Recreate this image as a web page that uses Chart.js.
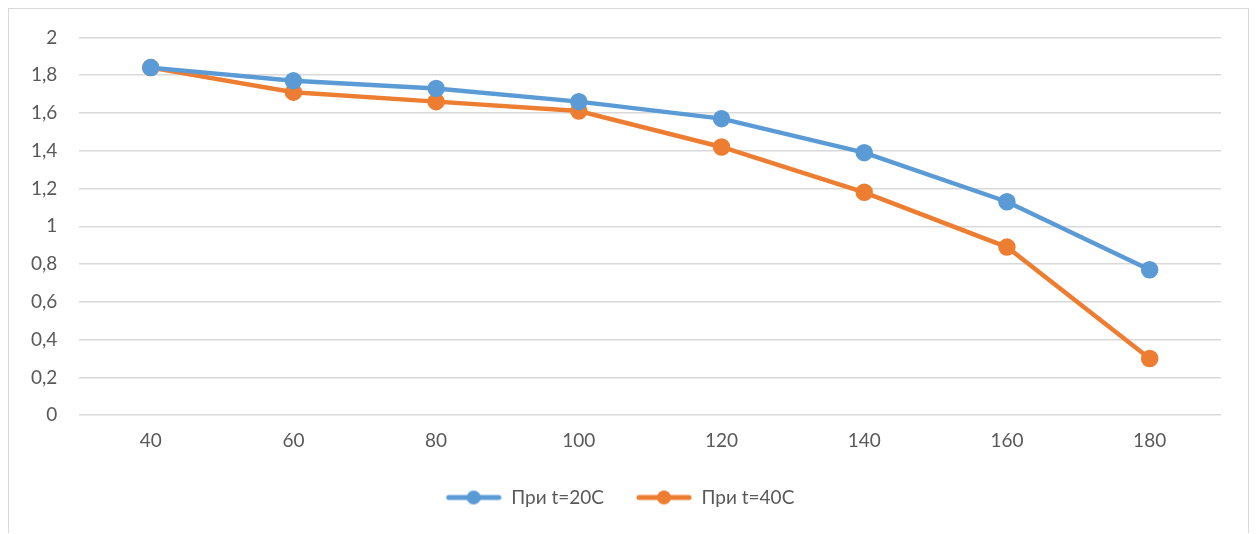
<!DOCTYPE html>
<html>
<head>
<meta charset="utf-8">
<script src="https://cdn.jsdelivr.net/npm/chart.js@4"></script>
<style>
    body { margin: 0; background: #fff; }
    #box {
        position: absolute;
        left: 8px;
        top: 8px;
        width: 1239px;
        height: 524px;
        border: 1px solid #d9d9d9;
        border-bottom: none;
    }
    #wrap {
        position: absolute;
        left: 0;
        top: -5px;
        width: 1239px;
        height: 529px;
    }
</style>
</head>
<body>
<div id="box"><div id="wrap"><canvas id="chart"></canvas></div></div>
<script>
const categories = ['40', '60', '80', '100', '120', '140', '160', '180'];
const series20 = [1.84, 1.77, 1.73, 1.66, 1.57, 1.39, 1.13, 0.77];
const series40 = [1.84, 1.71, 1.66, 1.61, 1.42, 1.18, 0.89, 0.30];
const seriesNames = ['При t=20С', 'При t=40С'];
const colors = ['#5b9bd5', '#ed7d31'];

// значок легенды: линия с кружком (слева пустой отступ)
function legendIcon(color) {
    const c = document.createElement('canvas');
    c.width = 66;
    c.height = 16;
    const ctx = c.getContext('2d');
    ctx.strokeStyle = color;
    ctx.lineWidth = 5;
    ctx.lineCap = 'round';
    ctx.beginPath();
    ctx.moveTo(13, 8);
    ctx.lineTo(63, 8);
    ctx.stroke();
    ctx.fillStyle = color;
    ctx.beginPath();
    ctx.arc(38, 8, 7, 0, Math.PI * 2);
    ctx.fill();
    return c;
}

const font = { family: 'Lato, "Open Sans", sans-serif', size: 19 };

new Chart(document.getElementById('chart'), {
    type: 'line',
    data: {
        labels: categories,
        datasets: [series20, series40].map((d, i) => ({
            label: seriesNames[i],
            data: d,
            borderColor: colors[i],
            backgroundColor: colors[i],
            borderWidth: 4.5,
            pointRadius: 6.5,
            pointHoverRadius: 6.5,
            pointStyle: 'circle',
            tension: 0
        }))
    },
    options: {
        responsive: true,
        maintainAspectRatio: false,
        animation: false,
        layout: { padding: { top: 11, right: 27, left: 0, bottom: 16 } },
        plugins: {
            tooltip: { enabled: false },
            legend: {
                position: 'bottom',
                labels: {
                    color: '#595959',
                    font: font,
                    usePointStyle: true,
                    pointStyleWidth: 66,
                    padding: 22,
                    generateLabels(chart) {
                        return chart.data.datasets.map((ds, i) => ({
                            text: ds.label,
                            fontColor: '#595959',
                            pointStyle: legendIcon(colors[i]),
                            datasetIndex: i,
                            hidden: false,
                            lineWidth: 0
                        }));
                    }
                }
            }
        },
        scales: {
            x: {
                offset: true,
                grid: { display: false, drawTicks: false },
                border: { display: false },
                ticks: { color: '#595959', font: font, padding: 14 }
            },
            y: {
                min: 0,
                max: 2,
                grid: { color: '#d9d9d9', lineWidth: 1.5, drawTicks: false },
                border: { display: false },
                ticks: {
                    stepSize: 0.2,
                    color: '#595959',
                    font: font,
                    padding: 22,
                    callback: v => String(Math.round(v * 10) / 10).replace('.', ',')
                }
            }
        }
    }
});
</script>
</body>
</html>
